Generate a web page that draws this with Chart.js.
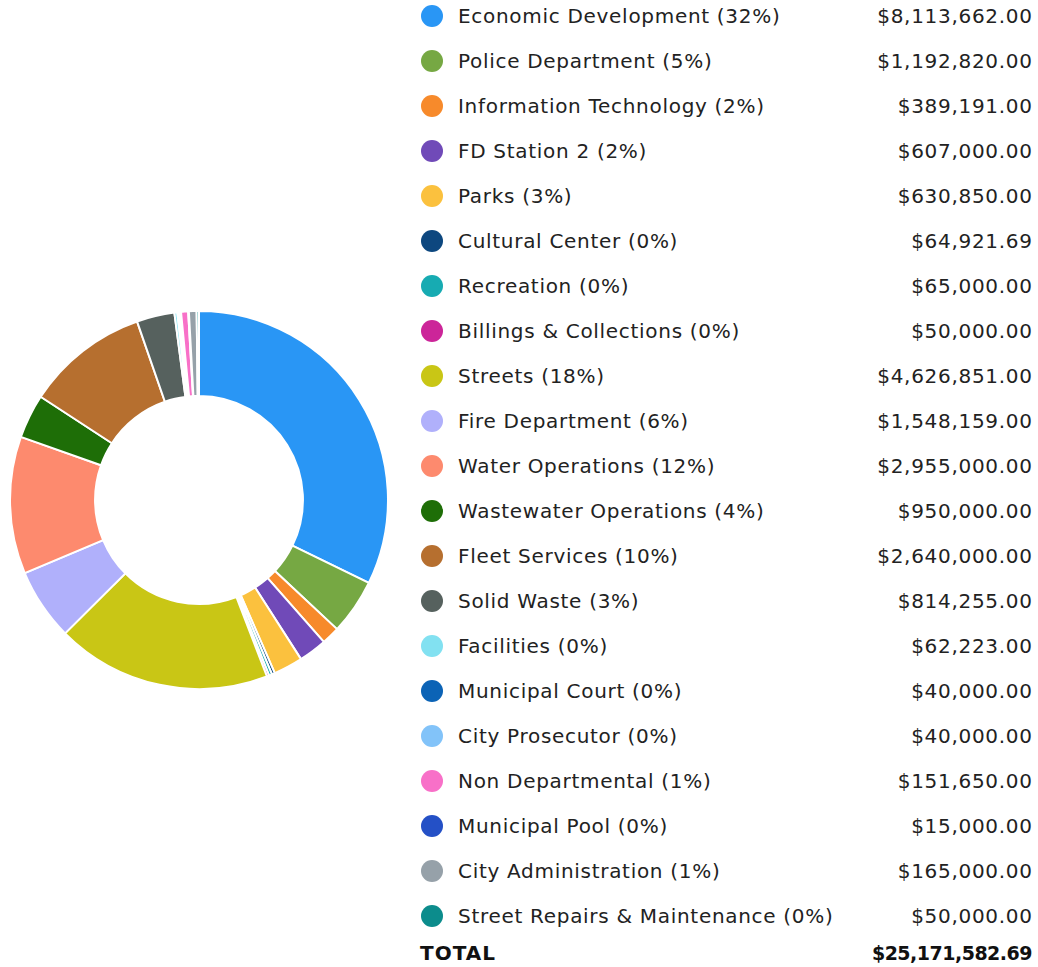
<!DOCTYPE html>
<html>
<head>
<meta charset="utf-8">
<script src="https://cdn.jsdelivr.net/npm/chart.js@4.4.0/dist/chart.umd.min.js"></script>
<style>
  html, body { margin: 0; padding: 0; background: #fff; }
  body { width: 1038px; height: 967px; position: relative; overflow: hidden;
         font-family: "DejaVu Sans", sans-serif; color: #222; }
  #pie { position: absolute; left: 9px; top: 310px; width: 380px; height: 380px; }
  #legend { position: absolute; left: 420px; top: 0; width: 612px; }
  .row { position: absolute; left: 0; width: 612px; height: 30px; font-size: 20px; line-height: 30px; }
  .dot { position: absolute; left: 1px; top: 4px; width: 22px; height: 22px; border-radius: 50%; }
  .name { position: absolute; left: 38px; top: 0; white-space: nowrap; letter-spacing: 0.7px; }
  .amt { position: absolute; right: 0; top: 0; white-space: nowrap; letter-spacing: 0.7px; margin-right: -0.7px; }
  .total { font-weight: bold; color: #111; }
  .total .name { left: 0; letter-spacing: 1px; }
  .total .amt { font-size: 19px; letter-spacing: -0.5px; margin-right: 0; }
</style>
</head>
<body>
<div id="pie"><canvas id="chart_donut" width="380" height="380"></canvas></div>
<div id="legend"></div>
<script>
"use strict";

var departments = [
  'Economic Development', 'Police Department', 'Information Technology', 'FD Station 2',
  'Parks', 'Cultural Center', 'Recreation', 'Billings & Collections', 'Streets',
  'Fire Department', 'Water Operations', 'Wastewater Operations', 'Fleet Services',
  'Solid Waste', 'Facilities', 'Municipal Court', 'City Prosecutor', 'Non Departmental',
  'Municipal Pool', 'City Administration', 'Street Repairs & Maintenance'
];
var amounts = [
  8113662.00, 1192820.00, 389191.00, 607000.00,
  630850.00, 64921.69, 65000.00, 50000.00, 4626851.00,
  1548159.00, 2955000.00, 950000.00, 2640000.00,
  814255.00, 62223.00, 40000.00, 40000.00, 151650.00,
  15000.00, 165000.00, 50000.00
];
var colors = [
  '#2996f5', '#76a843', '#f78a2b', '#704ab8',
  '#fbc13e', '#0d477f', '#17abb2', '#cc2599', '#c9c615',
  '#b0b0fb', '#fd8a6e', '#1e6e07', '#b66f2f',
  '#56615e', '#82e1f1', '#0b63b6', '#82c3f9', '#f870c8',
  '#2450c6', '#96a1a9', '#0c8c8c'
];

var Budget = function () {
  var ctx;
  var legendBox;
  var total = 0;

  function money(v) {
    return '$' + v.toLocaleString('en-US', { minimumFractionDigits: 2, maximumFractionDigits: 2 });
  }

  const buildLegend = function () {
    let html = '';
    for (let i = 0; i < departments.length; i++) {
      let pct = Math.round(amounts[i] / total * 100);
      html += '<div class="row" style="top:' + (1 + i * 45) + 'px">' +
        '<span class="dot" style="background:' + colors[i] + '"></span>' +
        '<span class="name">' + departments[i].replace('&', '&amp;') + ' (' + pct + '%)</span>' +
        '<span class="amt">' + money(amounts[i]) + '</span></div>';
    }
    html += '<div class="row total" style="top:' + (1 + departments.length * 45 - 8) + 'px">' +
      '<span class="name">TOTAL</span><span class="amt">' + money(total) + '</span></div>';
    legendBox.innerHTML = html;
  }

  const drawChart = function () {
    const data = {
      labels: departments,
      datasets: [{
        data: amounts,
        backgroundColor: colors,
        borderColor: '#ffffff',
        borderWidth: 2
      }]
    };
    new Chart(ctx, {
      type: 'doughnut',
      data: data,
      options: {
        responsive: false,
        animation: false,
        cutout: '55%',
        layout: { padding: 0 },
        plugins: {
          legend: { display: false },
          tooltip: { enabled: false }
        }
      }
    });
  }

  return {
    init: function () {
      ctx = document.getElementById('chart_donut');
      legendBox = document.getElementById('legend');
      total = amounts.reduce((a, b) => a + b, 0);
      buildLegend();
      drawChart();
    }
  }
}();

Budget.init();
</script>
</body>
</html>
